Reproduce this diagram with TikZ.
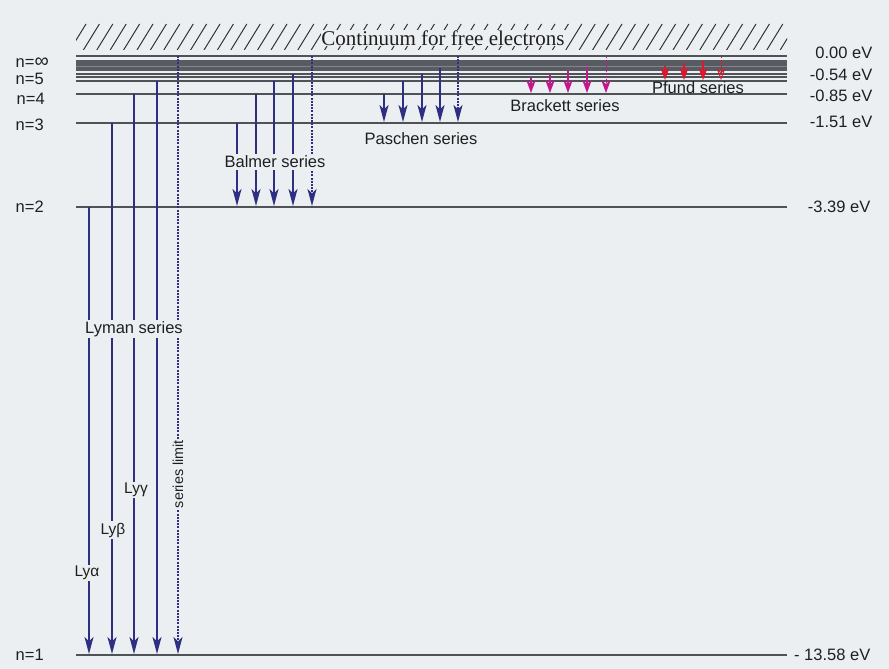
\documentclass[tikz,border=0pt]{standalone}
\usepackage{fontspec}
\setmainfont{Liberation Sans}
\newfontfamily\contfont{Liberation Serif}
\usetikzlibrary{arrows.meta}
\definecolor{bgc}{HTML}{ECEFF2}
\definecolor{lvl}{HTML}{4F5257}
\definecolor{navy}{HTML}{2E2E82}
\definecolor{brack}{HTML}{C4168E}
\definecolor{pfund}{HTML}{E3142C}
\definecolor{bandc}{HTML}{585C62}
\begin{document}
\begin{tikzpicture}[x=1pt,y=-1pt,
  level/.style={draw=lvl, line width=1.8pt},
  thinlevel/.style={draw=lvl, line width=1.3pt},
  hatchline/.style={draw=black!80, line width=1pt},
  tr/.style={draw=navy, line width=1.4pt, -{Stealth[length=17pt,width=9pt,inset=4.5pt]}},
  trlim/.style={tr, line width=1.1pt, dash pattern=on 2pt off 1.2pt},
  brtr/.style={draw=brack, fill=brack, line width=1.3pt, -{Stealth[length=13pt,width=9.5pt,inset=4pt]}},
  brlim/.style={brtr, line width=0.9pt, dash pattern=on 1.5pt off 1.2pt},
  pftr/.style={draw=pfund, fill=pfund, line width=1.3pt, -{Stealth[length=12pt,width=9pt,inset=4pt]}},
  pflim/.style={draw=pfund, line width=0.9pt, dash pattern=on 1.5pt off 1.2pt, -{Stealth[length=12pt,width=9pt,inset=4pt,open]}},
  txt/.style={font=\fontsize{16.5}{18}\selectfont, text=black!88, inner sep=1.5pt},
  lab/.style={txt, fill=bgc},
  lylab/.style={font=\fontsize{15.5}{17}\selectfont, text=black!88, fill=bgc, inner sep=1.5pt},
  nlab/.style={txt, anchor=west},
  elab/.style={txt, anchor=east}
]
\fill[bgc] (0,0) rectangle (889,669);
\useasboundingbox (0,0) rectangle (889,669);

% hatch of the continuum
\begin{scope}
  \clip (76,24) rectangle (787,50);
  \foreach \i in {0,...,54} {
    \draw[hatchline] ({70+\i*13.4},50) -- ++(16,-26);
  }
\end{scope}

% levels
\foreach \n/\y/\st in {inf/56/thinlevel, six/74/thinlevel, sev/77/thinlevel, five/81/level, four/94/level, three/123/level, two/207/level, one/655/level} {
  \coordinate (\n L) at (76,\y);
  \coordinate (\n R) at (787,\y);
  \draw[\st] (\n L) -- (\n R);
}
\fill[bandc] (76,60) rectangle (787,71.5);
\draw[draw=bandc!75!white, line width=0.3pt] (76,65.8) -- (787,65.8);

% Lyman series
\foreach \k/\x/\yt/\st in {a/89/207/tr, b/112/123/tr, c/134/94/tr, d/157/81/tr, e/178/56/trlim} {
  \coordinate (ly\k t) at (\x,\yt);
  \coordinate (ly\k b) at (\x,654);
  \draw[\st] (ly\k t) -- (ly\k b);
}
% Balmer series
\foreach \k/\x/\yt/\st in {a/237/123/tr, b/256/94/tr, c/274/81/tr, d/293/74/tr, e/312/56/trlim} {
  \coordinate (ba\k t) at (\x,\yt);
  \coordinate (ba\k b) at (\x,206);
  \draw[\st] (ba\k t) -- (ba\k b);
}
% Paschen series
\foreach \k/\x/\yt/\st in {a/384/94/tr, b/403/81/tr, c/422/74/tr, d/440/68/tr, e/458/56/trlim} {
  \coordinate (pa\k t) at (\x,\yt);
  \coordinate (pa\k b) at (\x,122);
  \draw[\st] (pa\k t) -- (pa\k b);
}
% Brackett series
\foreach \k/\x/\yt/\st in {a/531/78/brtr, b/550/75/brtr, c/568/71/brtr, d/587/67/brtr, e/606/57/brlim} {
  \coordinate (br\k t) at (\x,\yt);
  \coordinate (br\k b) at (\x,93);
  \draw[\st] (br\k t) -- (br\k b);
}
% Pfund series
\foreach \k/\x/\yt/\st in {a/665/66/pftr, b/684/63/pftr, c/703/61/pftr, d/721/57/pflim} {
  \coordinate (pf\k t) at (\x,\yt);
  \coordinate (pf\k b) at (\x,80);
  \draw[\st] (pf\k t) -- (pf\k b);
}

% labels
\node[fill=bgc, inner sep=0.5pt, font=\contfont\fontsize{21}{23}\selectfont, text=black!88] (cont) at (443,38) {Continuum for free electrons};
\node[lylab] (lya) at (87,573) {Lyα};
\node[lylab] (lyb) at (113,530) {Lyβ};
\node[lylab] (lyc) at (136,490) {Lyγ};
\node[rotate=90, fill=bgc, inner sep=1pt, font=\fontsize{14.4}{16}\selectfont, text=black!88] (slim) at (178,474) {series limit};
\node[lab] (lyman) at (134,329) {Lyman series};
\node[lab] (balmer) at (275,162) {Balmer series};
\node[txt] (paschen) at (421,139) {Paschen series};
\node[txt] (brackett) at (565,106) {Brackett series};
\node[txt] (pfundl) at (698,88) {Pfund series};

\node[nlab] (nlinf) at (14,63) {n={\fontsize{20}{18}\selectfont ∞}};
\node[nlab] (nl5) at (14,79) {n=5};
\node[nlab] (nl4) at (15,99) {n=4};
\node[nlab] (nl3) at (14,125) {n=3};
\node[nlab] (nl2) at (14,207) {n=2};
\node[nlab] (nl1) at (14,655) {n=1};

\node[elab] (e0) at (874,53) {0.00 eV};
\node[elab] (e5) at (874,75) {-0.54 eV};
\node[elab] (e4) at (874,96) {-0.85 eV};
\node[elab] (e3) at (874,122) {-1.51 eV};
\node[elab] (e2) at (872,207) {-3.39 eV};
\node[elab] (e1) at (872,655) {- 13.58 eV};
\end{tikzpicture}
\end{document}
